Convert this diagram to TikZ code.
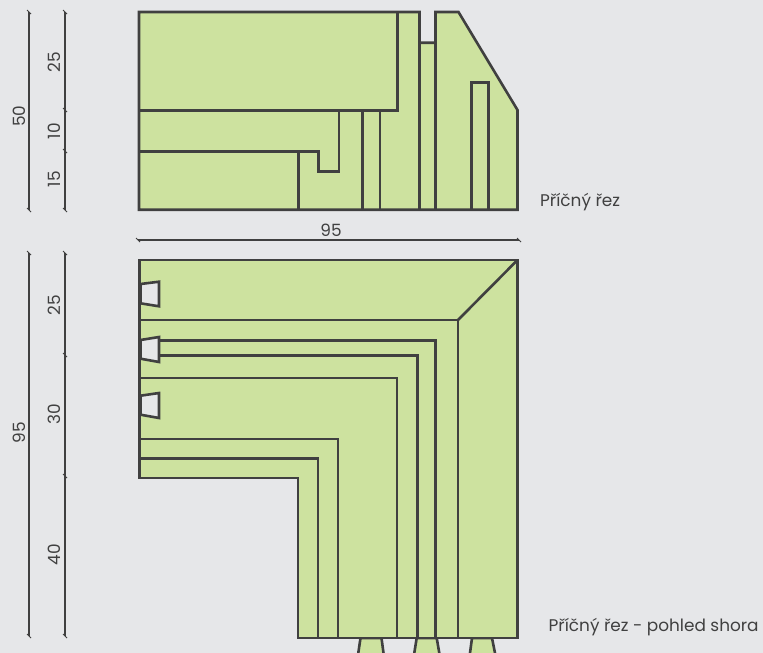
\documentclass[tikz,border=0pt]{standalone}
\usepackage{fontspec}
\setmainfont{Poppins}
\usepackage{tikz}
\definecolor{bgGray}{HTML}{E6E7E9}
\definecolor{woodGreen}{HTML}{CDE29F}
\definecolor{lineDark}{HTML}{404040}
\begin{document}
\begin{tikzpicture}[x=1pt, y=-1pt, font=\fontsize{16.9}{20}\selectfont, text=lineDark]
		\tikzstyle{wood} = [fill=woodGreen, draw=lineDark, line width=2.6pt, line join=miter]
		\tikzstyle{cut} = [draw=lineDark, line width=2.6pt]
		\tikzstyle{slot} = [fill=bgGray, draw=lineDark, line width=2.6pt]
		\tikzstyle{dimline} = [draw=lineDark, line width=1.8pt]
		\tikzstyle{dimtick} = [draw=lineDark, line width=1pt]
		\tikzstyle{dimlabel} = [inner sep=0pt, rotate=90]
		
		% Background of the figure
		\fill [bgGray] (0,0) rectangle (763,653);
		\useasboundingbox (0,0) rectangle (763,653);
		
		% Upper part - cross section
		\draw [wood] (139,12) -- (419.5,12) -- (419.5,42.7) -- (435.5,42.7) -- (435.5,12) -- (458.5,12) -- (517.5,110) -- (517.5,209.7) -- (139,209.7) -- cycle;
		\draw [cut] (139,110.3) -- (397.7,110.3) -- (397.7,12);
		\draw [cut] (139,151.3) -- (318.3,151.3) -- (318.3,171.7) -- (339,171.7) -- (339,110.3);
		\draw [cut] (298.3,151.3) -- (298.3,209.7);
		\draw [cut] (362.7,110.3) -- (362.7,209.7);
		\draw [cut] (380,110.3) -- (380,209.7);
		\draw [cut] (419.5,42.7) -- (419.5,209.7);
		\draw [cut] (435.5,42.7) -- (435.5,209.7);
		\draw [cut] (471.3,209.7) -- (471.3,82.7) -- (488.3,82.7) -- (488.3,209.7);
		
		% Pins under the lower part
		\draw [wood] (358.3,653) -- (360.5,638) -- (381.5,638) -- (383.5,653);
		\draw [wood] (414.3,653) -- (416.7,638) -- (436.7,638) -- (439.3,653);
		\draw [wood] (470,653) -- (472,638) -- (492,638) -- (495,653);
		
		% Lower part - view from above
		\draw [wood] (139.5,260) -- (517.5,260) -- (517.5,638) -- (298,638) -- (298,478) -- (139.5,478) -- cycle;
		\draw [cut] (517.5,260) -- (458,320);
		\draw [cut] (139.5,320) -- (458,320) -- (458,638);
		\draw [cut] (159,340.4) -- (435.5,340.4) -- (435.5,638);
		\draw [cut] (159,355.7) -- (417.5,355.7) -- (417.5,638);
		\draw [cut] (139.5,378) -- (397,378) -- (397,638);
		\draw [cut] (139.5,438.8) -- (338,438.8) -- (338,638);
		\draw [cut] (139.5,458.7) -- (318,458.7) -- (318,638);
		
		% Slots on the left side
		\draw [slot] (140.5,284) -- (159,281.7) -- (159,306.3) -- (140.5,303.3) -- cycle;
		\draw [slot] (140.5,340) -- (159,337) -- (159,362) -- (140.5,358.7) -- cycle;
		\draw [slot] (140.5,395.7) -- (159,393) -- (159,418) -- (140.5,414.7) -- cycle;
		
		% Dimension lines
		\draw [dimline] (29,12) -- (29,210);
		\draw [dimline] (65,12) -- (65,210);
		\draw [dimline] (138,240) -- (519,240);
		\draw [dimline] (29,253) -- (29,636);
		\draw [dimline] (65,253) -- (65,636);
		
		% Ticks of the dimension lines
		\foreach \tx/\ty in {29/12, 29/210, 65/12, 65/110, 65/151, 65/210, 29/253, 29/636, 65/253, 65/355, 65/476, 65/636, 138/240, 519/240}
			\draw [dimtick] (\tx-2,\ty-2) -- (\tx+2,\ty+2);
		
		% Dimension labels
		\node (dimA) [dimlabel] at (19,116) {50};
		\node (dimB) [dimlabel] at (54,62) {25};
		\node (dimC) [dimlabel] at (54,131) {10};
		\node (dimD) [dimlabel] at (54,179) {15};
		\node (dimE) [inner sep=0pt] at (331,230) {95};
		\node (dimF) [dimlabel] at (19,433) {95};
		\node (dimG) [dimlabel] at (54,305) {25};
		\node (dimH) [dimlabel] at (54,414) {30};
		\node (dimI) [dimlabel] at (54,555) {40};
		
		% Captions
		\node (sectionLabel) [inner sep=0pt, anchor=west] at (540,202) {Příčný řez};
		\node (topLabel) [inner sep=0pt, anchor=west] at (548.5,627) {Příčný řez - pohled shora};
		\end{tikzpicture}
\end{document}
